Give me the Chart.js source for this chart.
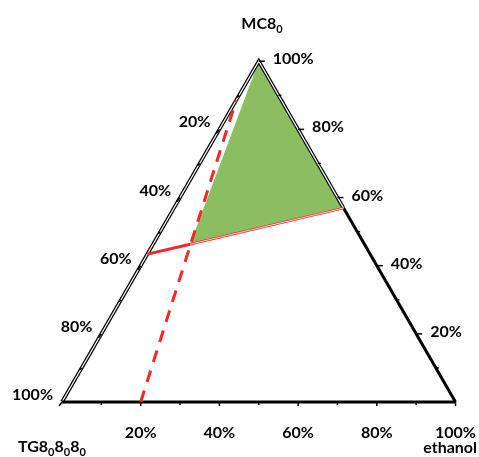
<!DOCTYPE html>
<html>
<head>
<meta charset="utf-8">
<script src="https://cdn.jsdelivr.net/npm/chart.js@4.4.1/dist/chart.umd.min.js"></script>
<style>body{margin:0;background:#fff}</style>
</head>
<body>
<canvas id="tern" width="479" height="457"></canvas>
<script>
// compositions in % : TG8-8-8 , MC8 , ethanol
const greenTG = [0, 0, 44.3, 0];
const greenMC = [100, 56.9, 46.3, 100];
const greenEt = [0, 43.1, 9.4, 0];

const redSolidTG = [56.6, 44.3];
const redSolidMC = [43.4, 46.3];
const redSolidEt = [0, 9.4];

const redThinTG = [44.3, 0];
const redThinMC = [46.3, 56.9];
const redThinEt = [9.4, 43.1];

const dashTG = [80, 11.5];
const dashMC = [0, 88.5];
const dashEt = [20, 0];

const tickValues = [10, 20, 30, 40, 50, 60, 70, 80, 90, 100];
const labelValues = [20, 40, 60, 80, 100];
const tickLabels = ['20%', '40%', '60%', '80%', '100%'];

const H = Math.sqrt(3) / 2;
function cart(tg, mc, et) {
    let s = tg + mc + et;
    return { x: (et + mc / 2) / s, y: (mc * H) / s };
}
function pts(tg, mc, et) {
    return tg.map((v, i) => cart(v, mc[i], et[i]));
}

const FONT = 'bold 16px Lato, "Liberation Sans", sans-serif';
const SUB = 'bold 11px Lato, "Liberation Sans", sans-serif';

const ternaryAxes = {
    id: 'ternaryAxes',
    afterDatasetsDraw(chart) {
        const ctx = chart.ctx;
        const sx = chart.scales.x, sy = chart.scales.y;
        const px = p => [sx.getPixelForValue(p.x), sy.getPixelForValue(p.y)];
        ctx.save();
        ctx.strokeStyle = '#000';
        ctx.lineWidth = 1.5;
        tickValues.forEach(v => {
            let big = v % 20 == 0;
            // bottom: ethanol
            let [bx, by] = px(cart(100 - v, 0, v));
            ctx.beginPath(); ctx.moveTo(bx, by); ctx.lineTo(bx, by + (big ? 4 : 3)); ctx.stroke();
            // right: MC8
            let [rx, ry] = px(cart(0, v, 100 - v));
            ctx.beginPath(); ctx.moveTo(rx, ry); ctx.lineTo(rx + (big ? 6 : 3), ry); ctx.stroke();
            // left: TG
            let [lx, ly] = px(cart(v, 100 - v, 0));
            ctx.beginPath(); ctx.moveTo(lx, ly); ctx.lineTo(lx - (big ? 3 : 2), ly + (big ? 4 : 2)); ctx.stroke();
        });
        ctx.fillStyle = '#000';
        ctx.font = FONT;
        ctx.textBaseline = 'alphabetic';
        labelValues.forEach((v, i) => {
            let [bx, by] = px(cart(100 - v, 0, v));
            ctx.textAlign = 'center';
            ctx.fillText(tickLabels[i], bx, by + 36);
            let [rx, ry] = px(cart(0, v, 100 - v));
            ctx.textAlign = 'left';
            ctx.fillText(tickLabels[i], rx + 14, ry + 3);
            let [lx, ly] = px(cart(v, 100 - v, 0));
            ctx.textAlign = 'right';
            ctx.fillText(tickLabels[i], lx - 9, ly - 2);
        });
        // corner titles with subscripts
        function sub(parts, x, y, align) {
            let w = 0;
            parts.forEach(p => { ctx.font = p[1] ? SUB : FONT; w += ctx.measureText(p[0]).width; });
            let cx = align == 'center' ? x - w / 2 : x;
            ctx.textAlign = 'left';
            parts.forEach(p => {
                ctx.font = p[1] ? SUB : FONT;
                ctx.fillText(p[0], cx, y + (p[1] ? 4 : 0));
                cx += ctx.measureText(p[0]).width;
            });
        }
        sub([['MC8', 0], ['0', 1]], 262, 29, 'center');
        sub([['TG8', 0], ['0', 1], ['8', 0], ['0', 1], ['8', 0], ['0', 1]], 18, 452, 'left');
        ctx.font = FONT;
        ctx.textAlign = 'right';
        ctx.fillText('ethanol', 477, 453);
        ctx.restore();
    }
};

const base = { showLine: true, pointRadius: 0, fill: false, tension: 0 };

new Chart('tern', {
    type: 'scatter',
    data: {
        datasets: [
            Object.assign({}, base, { data: pts(dashTG, dashMC, dashEt), borderColor: '#f0282a', borderWidth: 3, borderDash: [12, 9], order: 1 }),
            Object.assign({}, base, { data: pts(redSolidTG, redSolidMC, redSolidEt), borderColor: '#f0282a', borderWidth: 3, order: 2 }),
            Object.assign({}, base, { data: pts(redThinTG, redThinMC, redThinEt), borderColor: '#fff', borderWidth: 0.8, order: 3 }),
            Object.assign({}, base, { data: pts(redThinTG, redThinMC, redThinEt), borderColor: '#f0282a', borderWidth: 2.5, order: 4 }),
            // triangle edges
            Object.assign({}, base, { data: [cart(100, 0, 0), cart(0, 0, 100)], borderColor: '#000', borderWidth: 3, order: 5 }),
            Object.assign({}, base, { data: [cart(0, 56.9, 43.1), cart(0, 0, 100)], borderColor: '#000', borderWidth: 3, order: 5 }),
            Object.assign({}, base, { data: [cart(100, 0, 0), cart(0, 100, 0), cart(0, 56.9, 43.1)], borderColor: '#fff', borderWidth: 1.2, order: 6 }),
            Object.assign({}, base, { data: [cart(100, 0, 0), cart(0, 100, 0), cart(0, 56.9, 43.1)], borderColor: '#000', borderWidth: 3.6, order: 7 }),
            // green region
            Object.assign({}, base, { data: pts(greenTG, greenMC, greenEt), borderColor: 'rgba(0,0,0,0)', borderWidth: 0, backgroundColor: '#8bbe61', fill: 'shape', order: 10 })
        ]
    },
    options: {
        responsive: false,
        devicePixelRatio: 1,
        animation: false,
        layout: { padding: 0 },
        plugins: { legend: { display: false }, tooltip: { enabled: false } },
        scales: {
            x: { type: 'linear', display: false, min: -62 / 393.5, max: 417 / 393.5 },
            y: { type: 'linear', display: false, min: -55 / 393.5, max: 402 / 393.5 }
        }
    },
    plugins: [ternaryAxes]
});
</script>
</body>
</html>
